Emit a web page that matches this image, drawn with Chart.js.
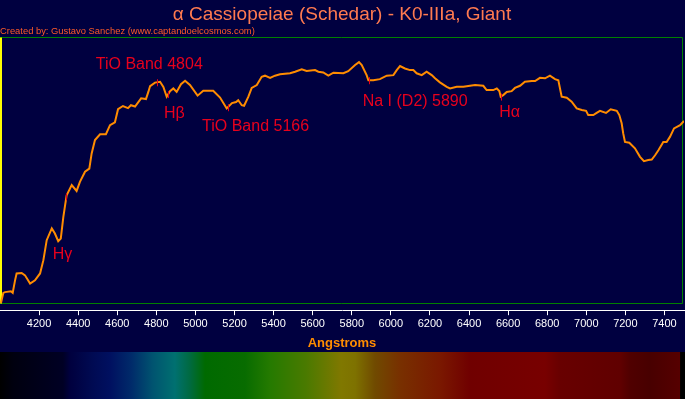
<!DOCTYPE html>
<html>
<head>
<meta charset="utf-8">
<script src="https://cdn.jsdelivr.net/npm/chart.js@4.4.0/dist/chart.umd.min.js"></script>
<style>
  html, body { margin: 0; padding: 0; background: #000040; }
  #wrap { width: 685px; height: 399px; }
</style>
</head>
<body>
<div id="wrap"><canvas id="spectrum"></canvas></div>
<script>
// wavelength (Angstrom) and relative flux
const wavelengths = [
  4005, 4017, 4026, 4056, 4065, 4077, 4085, 4111, 4128, 4154, 4179, 4205, 4222, 4239, 4265, 4281,
  4298, 4311, 4324, 4333, 4341, 4367, 4392, 4409, 4435, 4457, 4469, 4486, 4512, 4542, 4563, 4588,
  4604, 4629, 4655, 4670, 4691, 4722, 4747, 4759, 4768, 4793, 4819, 4836, 4853, 4870, 4887, 4904,
  4926, 4947, 4972, 5011, 5040, 5091, 5126, 5160, 5187, 5208, 5219, 5237, 5249, 5271, 5288, 5314,
  5339, 5356, 5382, 5407, 5433, 5484, 5510, 5544, 5569, 5612, 5629, 5654, 5680, 5706, 5757, 5782,
  5817, 5837, 5851, 5876, 5885, 5910, 5944, 5979, 6013, 6030, 6047, 6072, 6098, 6115, 6132, 6158,
  6183, 6209, 6226, 6251, 6286, 6303, 6337, 6371, 6405, 6431, 6473, 6490, 6524, 6542, 6555, 6562,
  6575, 6593, 6618, 6635, 6661, 6686, 6721, 6738, 6763, 6789, 6814, 6840, 6857, 6874, 6900, 6925,
  6951, 6977, 6999, 7010, 7036, 7053, 7070, 7101, 7125, 7156, 7169, 7181, 7189, 7198, 7220, 7249,
  7275, 7295, 7317, 7335, 7352, 7369, 7394, 7411, 7428, 7449, 7480, 7500
];
const flux = [
  0.001, 0.039, 0.042, 0.045, 0.039, 0.086, 0.112, 0.114, 0.105, 0.074, 0.086, 0.112, 0.162, 0.237, 0.281, 0.262,
  0.233, 0.243, 0.324, 0.368, 0.406, 0.444, 0.422, 0.456, 0.494, 0.506, 0.563, 0.613, 0.635, 0.635, 0.669, 0.680,
  0.729, 0.741, 0.733, 0.744, 0.739, 0.770, 0.767, 0.794, 0.816, 0.829, 0.832, 0.813, 0.776, 0.797, 0.807, 0.794,
  0.823, 0.836, 0.820, 0.780, 0.798, 0.798, 0.773, 0.732, 0.752, 0.756, 0.763, 0.744, 0.742, 0.776, 0.809, 0.820,
  0.851, 0.855, 0.847, 0.855, 0.860, 0.864, 0.870, 0.879, 0.873, 0.876, 0.870, 0.867, 0.855, 0.866, 0.864, 0.872,
  0.895, 0.906, 0.895, 0.857, 0.838, 0.838, 0.842, 0.855, 0.857, 0.876, 0.891, 0.882, 0.876, 0.876, 0.864, 0.857,
  0.870, 0.857, 0.845, 0.830, 0.813, 0.807, 0.813, 0.813, 0.817, 0.820, 0.817, 0.801, 0.801, 0.807, 0.797, 0.776,
  0.782, 0.794, 0.797, 0.809, 0.817, 0.832, 0.835, 0.835, 0.847, 0.845, 0.855, 0.842, 0.838, 0.776, 0.772, 0.757,
  0.732, 0.726, 0.723, 0.707, 0.707, 0.715, 0.723, 0.715, 0.729, 0.723, 0.707, 0.676, 0.638, 0.606, 0.603, 0.582,
  0.550, 0.534, 0.538, 0.540, 0.556, 0.575, 0.606, 0.606, 0.625, 0.657, 0.669, 0.685
];
const tickValues = [4200, 4400, 4600, 4800, 5000, 5200, 5400, 5600, 5800, 6000, 6200, 6400, 6600, 6800, 7000, 7200, 7400];

const featureNames = ['H\u03b3', 'TiO Band 4804', 'H\u03b2', 'TiO Band 5166', 'Na I (D2) 5890', 'H\u03b1'];
const featureWavelengths = [4340, 4804, 4861, 5166, 5890, 6563];
// where each label's left edge sits, in data units [wavelength, flux]
const labelAnchors = [[4270, 0.184], [4490, 0.895], [4839, 0.714], [5034, 0.665], [5856, 0.759], [6555, 0.718]];

const FONT = "'Liberation Sans', Arial, sans-serif";
const BG = '#000040';

// colour strip under the axis, keyed by wavelength
const stripStops = [
  [4000, '#000000'], [4067, '#00000f'], [4322, '#000024'], [4358, '#00003e'], [4471, '#000a52'],
  [4563, '#001060'], [4670, '#002a6a'], [4783, '#005470'], [4895, '#007070'], [4972, '#006a40'],
  [5049, '#006a00'], [5254, '#086c00'], [5382, '#257a00'], [5566, '#4a7a00'], [5745, '#807800'],
  [5817, '#7e7200'], [5919, '#704a00'], [6047, '#783000'], [6251, '#7a1800'], [6405, '#700000'],
  [6789, '#780000'], [6866, '#680000'], [7173, '#600000'], [7224, '#500000'], [7326, '#480000'],
  [7500, '#580000']
];

function fluxAt(w) {
  for (let i = 1; i < wavelengths.length; i++) {
    if (wavelengths[i] >= w) {
      const t = (w - wavelengths[i - 1]) / (wavelengths[i] - wavelengths[i - 1]);
      return flux[i - 1] + t * (flux[i] - flux[i - 1]);
    }
  }
  return flux[flux.length - 1];
}

const background = {
  id: 'background',
  beforeDraw(chart) {
    const ctx = chart.ctx;
    ctx.save();
    ctx.fillStyle = BG;
    ctx.fillRect(0, 0, chart.width, chart.height);
    ctx.restore();
  },
};

const frame = {
  id: 'frame',
  beforeDatasetsDraw(chart) {
    const { ctx, chartArea, scales } = chart;
    const bottom = Math.round(scales.y.getPixelForValue(0)) + 0.5;
    const top = Math.round(chartArea.top) + 0.5;
    const right = Math.round(scales.x.getPixelForValue(7500)) - 1.5;
    ctx.save();
    ctx.lineWidth = 1;
    ctx.strokeStyle = '#008000';
    ctx.beginPath();
    ctx.moveTo(0, top); ctx.lineTo(right, top); ctx.lineTo(right, bottom); ctx.lineTo(0, bottom);
    ctx.stroke();
    ctx.strokeStyle = '#ffff00';
    ctx.lineWidth = 2;
    ctx.beginPath();
    ctx.moveTo(1, top); ctx.lineTo(1, bottom);
    ctx.stroke();
    ctx.restore();
  },
};

const features = {
  id: 'features',
  afterDatasetsDraw(chart) {
    const { ctx, scales } = chart;
    ctx.save();
    ctx.strokeStyle = '#e8001c';
    ctx.fillStyle = '#e8001c';
    ctx.lineWidth = 1;
    featureWavelengths.forEach((w) => {
      const px = Math.round(scales.x.getPixelForValue(w)) + 0.5;
      const py = scales.y.getPixelForValue(fluxAt(w));
      ctx.beginPath();
      ctx.moveTo(px, py - 3);
      ctx.lineTo(px, py + 4);
      ctx.stroke();
    });
    ctx.font = '16px ' + FONT;
    ctx.textBaseline = 'middle';
    ctx.textAlign = 'left';
    featureNames.forEach((name, i) => {
      const [w, v] = labelAnchors[i];
      ctx.fillText(name, scales.x.getPixelForValue(w), scales.y.getPixelForValue(v));
    });
    ctx.restore();
  },
};

const strip = {
  id: 'strip',
  afterDraw(chart) {
    const { ctx, scales } = chart;
    const top = chart.height - 47;
    const x0 = scales.x.getPixelForValue(4000);
    const x1 = scales.x.getPixelForValue(7500);
    const grad = ctx.createLinearGradient(x0, 0, x1, 0);
    stripStops.forEach(([w, c]) => grad.addColorStop((w - 4000) / 3500, c));
    ctx.save();
    ctx.fillStyle = '#000000';
    ctx.fillRect(0, top, chart.width, 47);
    ctx.fillStyle = grad;
    ctx.fillRect(x0, top, scales.x.getPixelForValue(7480) - x0, 47);
    ctx.restore();
  },
};

new Chart(document.getElementById('spectrum').getContext('2d'), {
  type: 'line',
  data: {
    datasets: [{
      data: wavelengths.map((w, i) => ({ x: w, y: flux[i] })),
      borderColor: '#ff8c00',
      borderWidth: 2,
      pointRadius: 0,
      tension: 0,
      fill: false,
    }],
  },
  options: {
    responsive: true,
    maintainAspectRatio: false,
    animation: false,
    devicePixelRatio: 1,
    layout: { padding: { left: 0, right: 1, top: 0, bottom: 47 } },
    plugins: {
      legend: { display: false },
      tooltip: { enabled: false },
      title: {
        display: true,
        text: '\u03b1 Cassiopeiae (Schedar) - K0-IIIa, Giant',
        color: '#ff7a50',
        font: { family: FONT, size: 19, weight: 'normal' },
        padding: { top: 3, bottom: 0 },
      },
      subtitle: {
        display: true,
        text: 'Created by: Gustavo Sanchez (www.captandoelcosmos.com)',
        align: 'start',
        color: '#ff5a28',
        font: { family: FONT, size: 9.4 },
        padding: { top: 0, bottom: 0 },
      },
    },
    scales: {
      x: {
        type: 'linear',
        min: 4000,
        max: 7500,
        afterBuildTicks: (scale) => { scale.ticks = tickValues.map(v => ({ value: v })); },
        ticks: {
          color: '#ffffff',
          font: { family: FONT, size: 11 },
          autoSkip: false,
          maxRotation: 0,
          padding: 2,
          callback: v => String(v),
        },
        grid: { drawOnChartArea: false, color: '#ffffff', tickLength: 5 },
        border: { color: '#ffffff', width: 1 },
        title: {
          display: true,
          text: 'Angstroms',
          color: '#ff8c00',
          font: { family: FONT, size: 13, weight: 'bold' },
          padding: { top: 3, bottom: 1 },
        },
      },
      y: { display: false, min: -0.026, max: 1 },
    },
  },
  plugins: [background, frame, features, strip],
});
</script>
</body>
</html>
